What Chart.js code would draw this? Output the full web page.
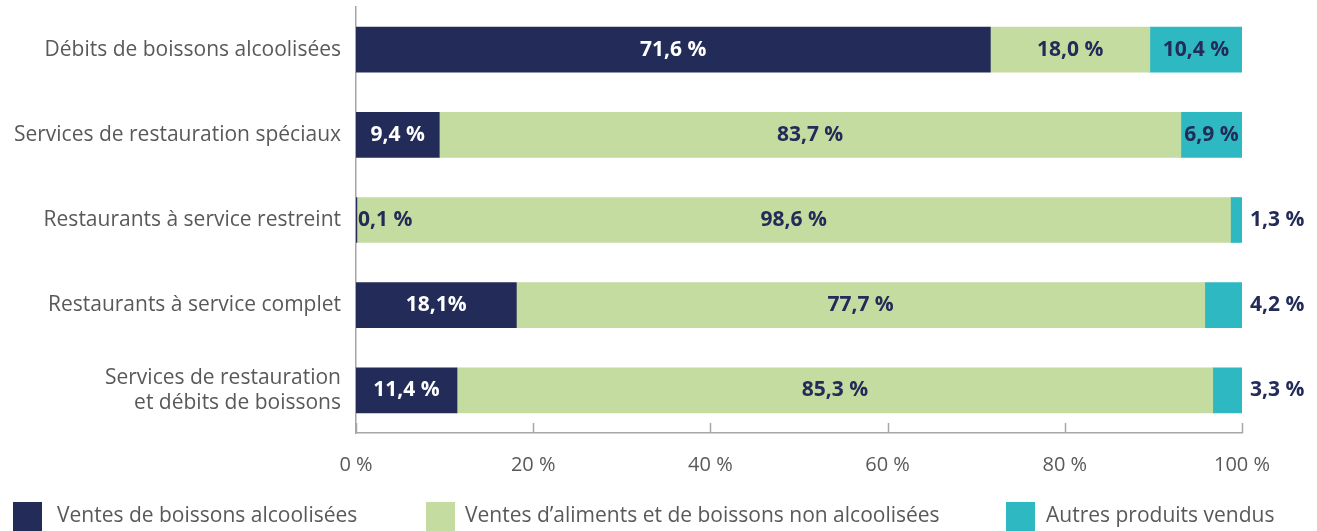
<!DOCTYPE html>
<html lang="fr">
<head>
<meta charset="utf-8">
<script src="https://cdn.jsdelivr.net/npm/chart.js@4/dist/chart.umd.min.js"></script>
<style>
    html, body { margin: 0; padding: 0; background: #fff; }
    #wrap { width: 1317px; height: 531px; position: relative; }
</style>
</head>
<body>
<div id="wrap"><canvas id="chart"></canvas></div>
<script>
const categories = [
    'Débits de boissons alcoolisées',
    'Services de restauration spéciaux',
    'Restaurants à service restreint',
    'Restaurants à service complet',
    ['Services de restauration', 'et débits de boissons']
];
const seriesNames = [
    'Ventes de boissons alcoolisées',
    'Ventes d\u2019aliments et de boissons non alcoolisées',
    'Autres produits vendus'
];
const alcool = [71.6, 9.4, 0.1, 18.1, 11.4];
const aliments = [18.0, 83.7, 98.6, 77.7, 85.3];
const autres = [10.4, 6.9, 1.3, 4.2, 3.3];
const xTicks = [0, 20, 40, 60, 80, 100];

const NAVY = '#232b58';
const GREEN = '#c5dca0';
const TEAL = '#2eb8c2';
const GREY_TEXT = '#595959';
const AXIS = '#a6a6a6';
const FONT = '"Open Sans", "Noto Sans", sans-serif';

function fmt(v, di, i) {
    const s = v.toFixed(1).replace('.', ',');
    // the full-service row prints its first value without the space
    return (di === 0 && i === 3) ? s + '%' : s + ' %';
}

// short tick marks pointing up into the plot from the x axis
const innerTicks = {
    id: 'innerTicks',
    afterDraw(chart) {
        const {ctx, scales: {x}, chartArea} = chart;
        ctx.save();
        ctx.strokeStyle = AXIS;
        ctx.lineWidth = 1.5;
        xTicks.forEach(t => {
            const px = Math.round(x.getPixelForValue(t)) + 0.5;
            ctx.beginPath();
            ctx.moveTo(px, chartArea.bottom);
            ctx.lineTo(px, chartArea.bottom - 10);
            ctx.stroke();
        });
        ctx.restore();
    }
};

// value labels on the segments
const valueLabels = {
    id: 'valueLabels',
    afterDatasetsDraw(chart) {
        const ctx = chart.ctx;
        ctx.save();
        ctx.font = 'bold 21px ' + FONT;
        ctx.textBaseline = 'middle';
        chart.data.datasets.forEach((ds, di) => {
            const meta = chart.getDatasetMeta(di);
            meta.data.forEach((bar, i) => {
                const txt = fmt(ds.data[i], di, i);
                const left = Math.min(bar.x, bar.base);
                const right = Math.max(bar.x, bar.base);
                const w = ctx.measureText(txt).width;
                if (w + 6 <= right - left) {
                    ctx.textAlign = 'center';
                    ctx.fillStyle = di === 0 ? '#ffffff' : NAVY;
                    ctx.fillText(txt, (left + right) / 2, bar.y);
                } else if (di === 0) {
                    ctx.textAlign = 'left';
                    ctx.fillStyle = NAVY;
                    ctx.fillText(txt, left + 2, bar.y);
                } else {
                    ctx.textAlign = 'left';
                    ctx.fillStyle = NAVY;
                    ctx.fillText(txt, right + 8, bar.y);
                }
            });
        });
        ctx.restore();
    }
};

// legend row along the bottom edge
const bottomLegend = {
    id: 'bottomLegend',
    afterDraw(chart) {
        const ctx = chart.ctx;
        const boxX = [13, 426, 1006];
        const textX = [57, 465, 1046];
        const top = 502;
        ctx.save();
        ctx.font = '21px ' + FONT;
        ctx.textBaseline = 'middle';
        ctx.textAlign = 'left';
        chart.data.datasets.forEach((ds, di) => {
            ctx.fillStyle = ds.backgroundColor;
            ctx.fillRect(boxX[di], top, 29, 29);
            ctx.fillStyle = GREY_TEXT;
            ctx.fillText(ds.label, textX[di], top + 14);
        });
        ctx.restore();
    }
};

new Chart(document.getElementById('chart'), {
    type: 'bar',
    data: {
        labels: categories,
        datasets: [
            {label: seriesNames[0], data: alcool, backgroundColor: NAVY},
            {label: seriesNames[1], data: aliments, backgroundColor: GREEN},
            {label: seriesNames[2], data: autres, backgroundColor: TEAL}
        ]
    },
    options: {
        indexAxis: 'y',
        responsive: true,
        maintainAspectRatio: false,
        animation: false,
        events: [],
        layout: {padding: {top: 7, right: 75, left: 0, bottom: 0}},
        datasets: {bar: {barThickness: 45, borderWidth: 0}},
        scales: {
            x: {
                stacked: true,
                min: 0,
                max: 100,
                afterBuildTicks: (scale) => { scale.ticks = xTicks.map(v => ({value: v})); },
                afterFit: (scale) => {
                    scale.height = 98;
                    scale.paddingLeft = 0;
                    scale.paddingRight = 0;
                },
                grid: {display: false, drawTicks: false},
                border: {display: true, color: AXIS, width: 1.5},
                ticks: {
                    color: GREY_TEXT,
                    padding: 20,
                    font: {family: FONT, size: 20},
                    callback: (v) => v + ' %'
                }
            },
            y: {
                stacked: true,
                afterFit: (scale) => {
                    scale.width = 356;
                    scale.paddingTop = 0;
                    scale.paddingBottom = 0;
                },
                grid: {display: false, drawTicks: false},
                border: {display: true, color: AXIS, width: 1.5},
                ticks: {
                    color: GREY_TEXT,
                    padding: 15,
                    font: {family: FONT, size: 21, lineHeight: 1.2}
                }
            }
        },
        plugins: {
            legend: {display: false},
            tooltip: {enabled: false}
        }
    },
    plugins: [innerTicks, valueLabels, bottomLegend]
});
</script>
</body>
</html>
